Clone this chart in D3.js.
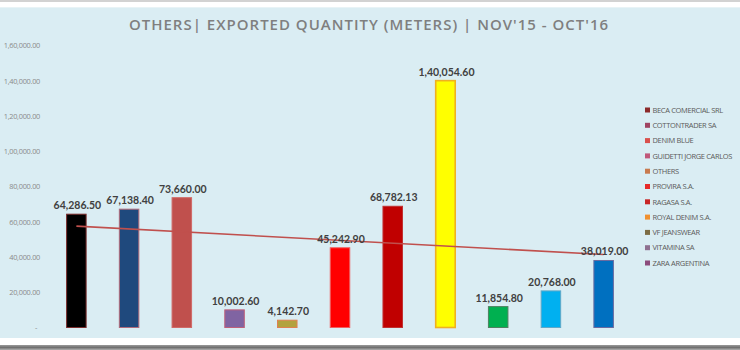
<!DOCTYPE html>
<html>
<head>
<meta charset="utf-8">
<script src="https://cdn.jsdelivr.net/npm/d3@7"></script>
<style>
  html, body { margin: 0; padding: 0; background: #ffffff; }
  svg { display: block; }
</style>
</head>
<body>
<svg id="chart" width="740" height="350"></svg>
<script>
// Exported quantity (meters) per buyer, Nov'15 - Oct'16
const buyers = [
  "BECA COMERCIAL SRL", "COTTONTRADER SA", "DENIM BLUE", "GUIDETTI JORGE CARLOS",
  "OTHERS", "PROVIRA S.A.", "RAGASA S.A.", "ROYAL DENIM S.A.",
  "VF JEANSWEAR", "VITAMINA SA", "ZARA ARGENTINA"
];
const quantities = [
  64286.50, 67138.40, 73660.00, 10002.60, 4142.70, 45242.90,
  68782.13, 140054.60, 11854.80, 20768.00, 38019.00
];
const yTicks = [0, 20000, 40000, 60000, 80000, 100000, 120000, 140000, 160000];
const titleText = "OTHERS| EXPORTED QUANTITY (METERS) | NOV'15 - OCT'16";

// Point colours of the bars and the legend swatches
const barFill = ["#000000", "#1f497d", "#c0504d", "#8064a2", "#b3a23e", "#ff0000",
                 "#c00000", "#ffff00", "#00b050", "#00b0f0", "#0070c0"];
const barStroke = ["#7b2c2c", "#b06a7a", "#d06a68", "#c0607a", "#e08050", "#f06060",
                   "#c03030", "#f0b020", "#508060", "#60a8c8", "#6a6aa0"];
const legendFill = ["#8c2a2a", "#a04462", "#d9504c", "#c0587a", "#c87a4e", "#e62a2a",
                    "#c82626", "#f0902e", "#7c6c44", "#8e7090", "#8c4c7c"];

// Indian digit grouping: 1,40,054.60
function indian(v) {
  const s = Math.abs(v).toFixed(2);
  let [intPart, dec] = s.split(".");
  let last3 = intPart.slice(-3);
  let rest = intPart.slice(0, -3);
  if (rest.length) {
    rest = rest.replace(/\B(?=(\d{2})+(?!\d))/g, ",");
    intPart = rest + "," + last3;
  } else {
    intPart = last3;
  }
  return (v < 0 ? "-" : "") + intPart + "." + dec;
}

const svg = d3.select("#chart");
const W = 740, H = 350;

// frame: grey rule on top, shadow at the bottom, light aqua chart area
svg.append("rect").attr("x", 0).attr("y", 0).attr("width", W).attr("height", H).attr("fill", "#ffffff");
svg.append("rect").attr("x", 0).attr("y", 0).attr("width", W).attr("height", 2).attr("fill", "#d2d2d2");
svg.append("rect").attr("x", 0).attr("y", 7).attr("width", W).attr("height", 1).attr("fill", "#e8f3f6");
svg.append("rect").attr("x", 0).attr("y", 8).attr("width", W).attr("height", 330).attr("fill", "#daedf3");
const shade = svg.append("defs").append("linearGradient").attr("id", "shade")
  .attr("x1", 0).attr("y1", 0).attr("x2", 0).attr("y2", 1);
shade.append("stop").attr("offset", "0%").attr("stop-color", "#9a9a9a");
shade.append("stop").attr("offset", "50%").attr("stop-color", "#707070");
shade.append("stop").attr("offset", "100%").attr("stop-color", "#b0b0b0");
svg.append("rect").attr("x", 0).attr("y", 345).attr("width", W).attr("height", 5).attr("fill", "url(#shade)");

// title
svg.append("text")
  .attr("x", 369).attr("y", 29.5)
  .attr("text-anchor", "middle")
  .attr("font-family", "'Open Sans', sans-serif")
  .attr("font-weight", 600)
  .attr("font-size", 15)
  .attr("letter-spacing", 1.0)
  .attr("fill", "#7f7f7f")
  .text(titleText);

// scales
const x = d3.scaleBand().domain(buyers).range([50, 630]).paddingInner(0.63).paddingOuter(0.315);
const y = d3.scaleLinear().domain([0, 160000]).range([327.5, 45.5]);

// y axis labels (no line, no gridlines)
const yAxis = d3.axisLeft(y).tickValues(yTicks).tickSize(0).tickPadding(0)
  .tickFormat(d => d === 0 ? "-" : indian(d));
const gy = svg.append("g").attr("transform", "translate(40,0)").call(yAxis);
gy.select(".domain").remove();
gy.selectAll("text")
  .attr("font-family", "'Open Sans', sans-serif")
  .attr("font-size", 7.4)
  .attr("letter-spacing", -0.3)
  .attr("fill", "#8a8a8a");
gy.selectAll(".tick").filter(d => d === 0).select("text").attr("x", -3);

// bars
svg.append("g").selectAll("rect").data(quantities).join("rect")
  .attr("x", (d, i) => x(buyers[i]))
  .attr("y", d => y(d))
  .attr("width", x.bandwidth())
  .attr("height", d => y(0) - y(d))
  .attr("fill", (d, i) => barFill[i])
  .attr("stroke", (d, i) => barStroke[i])
  .attr("stroke-width", (d, i) => i === 7 ? 1.6 : 1);

// linear trend line across the categories
const idx = quantities.map((d, i) => i + 1);
const mx = d3.mean(idx), my = d3.mean(quantities);
const slope = d3.sum(idx, (v, i) => (v - mx) * (quantities[i] - my)) / d3.sum(idx, v => (v - mx) ** 2);
const icpt = my - slope * mx;
const trend = idx.map((v, i) => [x(buyers[i]) + x.bandwidth() / 2, y(icpt + slope * v)]);
svg.append("path")
  .attr("d", d3.line()([trend[0], trend[trend.length - 1]]))
  .attr("stroke", "#c0504d").attr("stroke-width", 1.6).attr("fill", "none");

// value labels
svg.append("g").selectAll("text").data(quantities).join("text")
  .attr("x", (d, i) => x(buyers[i]) + x.bandwidth() / 2 + 1)
  .attr("y", d => y(d) - 5)
  .attr("text-anchor", "middle")
  .attr("font-family", "Lato, sans-serif")
  .attr("font-weight", 700)
  .attr("font-size", 10.5)
  .attr("fill", "#404040")
  .text(d => indian(d));

// legend
const lg = svg.append("g");
const rows = lg.selectAll("g").data(buyers).join("g")
  .attr("transform", (d, i) => `translate(645, ${110 + i * 15.3})`);
rows.append("rect").attr("x", 0).attr("y", -2.5).attr("width", 5).attr("height", 5)
  .attr("fill", (d, i) => legendFill[i]);
rows.append("text").attr("x", 7.5).attr("y", 2.7)
  .attr("font-family", "'Open Sans', sans-serif")
  .attr("font-size", 7.5)
  .attr("letter-spacing", -0.35)
  .attr("fill", "#5a5a5a")
  .text(d => d);
</script>
</body>
</html>
